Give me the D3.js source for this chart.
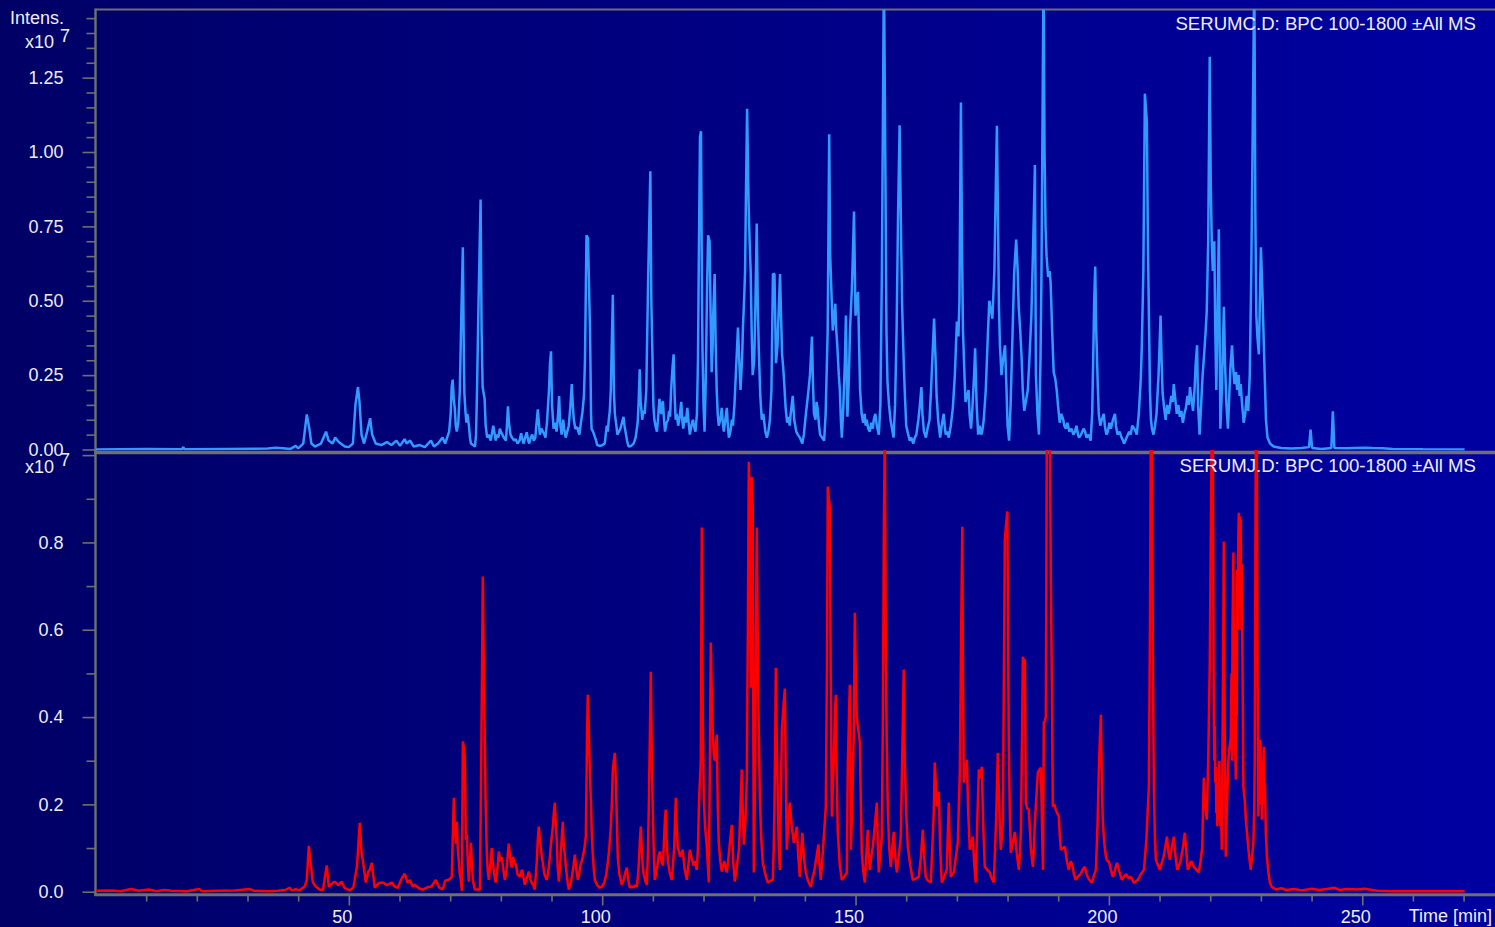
<!DOCTYPE html>
<html>
<head>
<meta charset="utf-8">
<script src="https://cdn.jsdelivr.net/npm/d3@7"></script>
<style>
  html, body { margin: 0; padding: 0; background: #000066; overflow: hidden; }
  svg { display: block; }
  text { font-family: "Liberation Sans", Arial, Helvetica, sans-serif; fill: #eeeeee; }
</style>
</head>
<body>
<svg id="chart" width="1495" height="927"></svg>
<script>
// ---- chart values -------------------------------------------------------
const traceTitles = ["SERUMC.D: BPC 100-1800 \u00b1All MS", "SERUMJ.D: BPC 100-1800 \u00b1All MS"];
const timeMinorTicks = d3.range(10, 271, 10);        // minutes
const timeLabelTicks = [50, 100, 150, 200, 250];      // minutes
const topMajorTicks = [0, 0.25, 0.5, 0.75, 1.0, 1.25]; // x10^7
const topMinorTicks = d3.range(0.05, 1.46, 0.05).filter(v => Math.abs(v / 0.25 - Math.round(v / 0.25)) > 1e-6);
const bottomMajorTicks = [0, 0.2, 0.4, 0.6, 0.8, 1.0];
const bottomMinorTicks = [0.1, 0.3, 0.5, 0.7, 0.9];
const bottomLabelTicks = [0, 0.2, 0.4, 0.6, 0.8];

// base peak chromatogram, SERUMC.D  [time (min), intensity (x10^7)]
const serumC = [
[0,0],[10,0.002],[17.1,0.001],[17.3,0.008],[17.6,0.001],[26,0.002],[34,0.003],[35.5,0.006],[37,0.004],[38.5,0.002],[39.5,0.012],[40,0.004],[41.0,0.02],[41.7,0.118],[42.2,0.07],[42.6,0.02],[43.3,0.01],[44.5,0.02],[45.5,0.06],[46.0,0.03],[46.8,0.02],[47.3,0.04],[48.0,0.025],[49.2,0.01],[50.0,0.008],[50.8,0.02],[51.3,0.15],[51.8,0.21],[52.1,0.16],[52.5,0.05],[53.0,0.02],[53.6,0.06],[54.2,0.105],[54.6,0.05],[55.3,0.02],[56.4,0.015],[57.5,0.025],[58.4,0.015],[59.4,0.03],[60.1,0.012],[61.0,0.035],[61.4,0.02],[62.1,0.03],[62.8,0.01],[64.0,0.015],[65.0,0.008],[66.2,0.03],[66.8,0.01],[67.6,0.02],[68.5,0.04],[69.0,0.02],
[69.8,0.06],[70.1,0.12],[70.3,0.21],[70.5,0.235],[70.7,0.17],[70.9,0.14],[71.1,0.08],[71.3,0.06],[71.6,0.09],[71.9,0.2],[72.2,0.45],[72.5,0.68],[72.7,0.3],[72.8,0.19],[73.0,0.13],[73.2,0.09],[73.4,0.12],[73.7,0.08],[73.9,0.04],[74.1,0.02],[74.5,0.015],[74.9,0.01],[75.1,0.05],[75.3,0.2],[75.6,0.5],[76.0,0.84],[76.2,0.4],[76.4,0.21],[76.6,0.19],[76.8,0.17],[77.0,0.08],[77.3,0.04],[77.6,0.05],[78.0,0.03],[78.3,0.06],[78.5,0.08],[78.8,0.05],[79.0,0.03],[79.2,0.05],[79.5,0.04],[79.8,0.07],[80.0,0.06],[80.3,0.05],[80.6,0.04],[81.0,0.03],[81.2,0.08],[81.4,0.145],[81.6,0.09],[81.9,0.05],[82.2,0.04],[82.6,0.03],[82.9,0.035],[83.3,0.02],[83.7,0.03],[84.0,0.055],[84.3,0.03],[84.5,0.02],[84.8,0.04],[85.1,0.058],[85.4,0.03],[85.6,0.02],[85.9,0.04],[86.2,0.05],[86.5,0.03],[86.8,0.04],[87.0,0.08],[87.3,0.135],[87.5,0.09],[87.7,0.05],[88.0,0.07],[88.3,0.06],[88.6,0.05],[88.8,0.04],[89.1,0.09],[89.5,0.2],[89.7,0.29],[89.9,0.33],[90.1,0.15],[90.4,0.07],[90.7,0.09],[91.0,0.06],[91.3,0.12],[91.5,0.18],[91.7,0.09],[92.0,0.05],[92.3,0.1],[92.5,0.07],[92.8,0.04],[93.1,0.06],[93.4,0.08],[93.7,0.14],[94.0,0.22],[94.2,0.15],[94.4,0.1],[94.7,0.07],[95.1,0.075],[95.3,0.06],[95.5,0.05],[95.8,0.09],[96.1,0.125],[96.4,0.18],[96.6,0.3],[96.9,0.72],[97.2,0.71],[97.4,0.55],[97.6,0.4],[97.8,0.12],[97.9,0.07],[98.2,0.06],[98.6,0.04],[98.8,0.03],[99.0,0.015],[99.6,0.012],[100.1,0.015],[100.5,0.02],[100.7,0.05],[100.9,0.08],[101.1,0.06],[101.3,0.1],[101.5,0.13],[101.7,0.2],[102.1,0.52],[102.3,0.2],[102.5,0.12],[102.8,0.08],[103.0,0.05],[103.3,0.06],[103.6,0.07],[103.9,0.09],[104.2,0.11],[104.4,0.08],[104.6,0.06],[104.9,0.03],[105.2,0.01],[105.7,0.012],[106.2,0.02],[106.6,0.04],[107.0,0.09],[107.2,0.16],[107.4,0.27],[107.6,0.16],[107.9,0.1],[108.1,0.13],[108.4,0.12],[108.7,0.2],[109.1,0.6],[109.5,0.935],[109.7,0.5],[109.9,0.33],[110.1,0.15],[110.3,0.1],[110.5,0.08],[110.8,0.06],[111.0,0.1],[111.3,0.17],[111.5,0.13],[111.7,0.12],[111.9,0.16],[112.0,0.16],[112.2,0.1],[112.4,0.06],[112.7,0.09],[113.0,0.1],[113.2,0.13],[113.4,0.11],[113.6,0.2],[113.9,0.28],[114.1,0.32],[114.3,0.18],[114.5,0.1],[114.7,0.12],[115.0,0.08],[115.3,0.11],[115.6,0.16],[115.8,0.1],[116.0,0.07],[116.3,0.11],[116.5,0.09],[116.8,0.14],[117.0,0.1],[117.3,0.05],[117.6,0.08],[117.9,0.1],[118.1,0.08],[118.4,0.06],[118.7,0.12],[118.9,0.3],[119.1,0.7],[119.3,1.05],[119.5,1.07],[119.7,0.5],[119.8,0.33],[120.0,0.15],[120.2,0.06],[120.4,0.2],[120.5,0.3],[120.7,0.55],[120.9,0.72],[121.2,0.7],[121.4,0.45],[121.6,0.26],[121.8,0.35],[121.9,0.45],[122.2,0.59],[122.4,0.35],[122.6,0.2],[122.8,0.12],[123.0,0.08],[123.3,0.1],[123.6,0.14],[123.8,0.09],[124.0,0.06],[124.3,0.1],[124.6,0.14],[124.8,0.08],[125.0,0.04],[125.3,0.06],[125.6,0.1],[125.8,0.08],[126.1,0.15],[126.5,0.3],[126.8,0.41],[127.0,0.32],[127.3,0.2],[127.6,0.3],[127.8,0.42],[128.0,0.5],[128.2,0.6],[128.4,0.9],[128.6,1.145],[128.9,0.82],[129.1,0.7],[129.3,0.6],[129.5,0.4],[129.7,0.25],[130.0,0.3],[130.2,0.45],[130.5,0.76],[130.7,0.5],[130.9,0.34],[131.2,0.18],[131.5,0.1],[131.8,0.12],[132.0,0.09],[132.2,0.06],[132.5,0.04],[132.8,0.06],[133.1,0.1],[133.4,0.2],[133.7,0.59],[134.0,0.59],[134.3,0.29],[134.6,0.35],[134.8,0.45],[135.1,0.59],[135.3,0.45],[135.5,0.32],[135.7,0.28],[135.9,0.23],[136.2,0.14],[136.5,0.09],[136.8,0.11],[137.0,0.08],[137.2,0.12],[137.4,0.15],[137.6,0.18],[137.9,0.1],[138.3,0.06],[138.6,0.05],[139.0,0.04],[139.5,0.02],[139.8,0.05],[140.2,0.12],[140.6,0.18],[141.0,0.25],[141.4,0.38],[141.6,0.22],[141.8,0.12],[142.1,0.1],[142.3,0.16],[142.5,0.14],[142.8,0.08],[143.0,0.05],[143.4,0.04],[143.8,0.03],[144.1,0.12],[144.5,0.4],[144.8,1.06],[145.0,0.65],[145.3,0.5],[145.5,0.4],[145.8,0.45],[146.0,0.49],[146.2,0.4],[146.4,0.35],[146.7,0.25],[146.9,0.2],[147.1,0.1],[147.3,0.04],[147.6,0.15],[147.9,0.3],[148.1,0.45],[148.3,0.2],[148.4,0.11],[148.7,0.25],[148.9,0.4],[149.3,0.55],[149.7,0.8],[149.9,0.55],[150.0,0.45],[150.3,0.5],[150.5,0.53],[150.7,0.35],[150.9,0.2],[151.2,0.12],[151.5,0.09],[151.8,0.12],[152.0,0.08],[152.2,0.1],[152.5,0.07],[152.8,0.06],[153.1,0.09],[153.4,0.07],[153.6,0.1],[153.9,0.12],[154.2,0.08],[154.6,0.05],[154.9,0.15],[155.2,0.6],[155.6,1.62],[155.9,0.92],[156.1,0.4],[156.3,0.23],[156.6,0.15],[156.9,0.1],[157.2,0.07],[157.5,0.04],[157.8,0.15],[158.1,0.4],[158.4,0.8],[158.7,1.09],[159.0,0.7],[159.2,0.48],[159.5,0.3],[159.7,0.2],[159.9,0.12],[160.0,0.08],[160.4,0.05],[160.7,0.03],[161.0,0.04],[161.4,0.02],[161.7,0.04],[162.0,0.05],[162.4,0.1],[162.7,0.15],[163.0,0.21],[163.2,0.12],[163.5,0.06],[163.7,0.05],[163.9,0.04],[164.2,0.07],[164.6,0.1],[164.9,0.2],[165.2,0.32],[165.5,0.44],[165.8,0.3],[166.0,0.18],[166.3,0.1],[166.5,0.07],[166.7,0.04],[167.0,0.08],[167.2,0.1],[167.4,0.12],[167.6,0.08],[167.8,0.05],[168.1,0.06],[168.4,0.04],[168.8,0.08],[169.2,0.14],[169.6,0.25],[170.0,0.43],[170.3,0.38],[170.5,0.5],[170.8,1.166],[171.0,0.7],[171.2,0.4],[171.5,0.25],[171.7,0.16],[172.0,0.18],[172.3,0.2],[172.5,0.12],[172.8,0.07],[173.1,0.15],[173.4,0.25],[173.6,0.34],[173.9,0.15],[174.2,0.05],[174.5,0.08],[174.8,0.05],[175.0,0.06],[175.3,0.1],[175.7,0.2],[176.1,0.38],[176.4,0.5],[176.7,0.47],[177.0,0.44],[177.2,0.52],[177.4,0.6],[177.7,0.9],[177.9,1.088],[178.1,0.8],[178.3,0.48],[178.5,0.35],[178.8,0.25],[179.1,0.3],[179.5,0.35],[179.8,0.2],[180.0,0.08],[180.3,0.03],[180.6,0.15],[181.0,0.4],[181.3,0.59],[181.5,0.65],[181.7,0.706],[182.0,0.6],[182.2,0.48],[182.5,0.4],[182.8,0.3],[183.0,0.2],[183.3,0.13],[183.6,0.16],[184.0,0.2],[184.3,0.3],[184.7,0.45],[185.0,0.65],[185.2,0.8],[185.4,0.956],[185.6,0.25],[185.9,0.12],[186.2,0.05],[186.5,0.3],[186.7,0.6],[186.9,1.1],[187.1,1.62],[187.3,1.0],[187.5,0.75],[187.7,0.65],[188.0,0.58],[188.3,0.6],[188.5,0.56],[188.8,0.4],[189.1,0.26],[189.4,0.24],[189.7,0.2],[190.0,0.14],[190.3,0.09],[190.6,0.12],[191.0,0.1],[191.2,0.08],[191.5,0.07],[191.8,0.09],[192.2,0.06],[192.6,0.07],[193.0,0.05],[193.3,0.06],[193.6,0.08],[193.9,0.05],[194.1,0.04],[194.5,0.05],[195.0,0.07],[195.3,0.06],[195.6,0.04],[196.0,0.05],[196.4,0.03],[196.7,0.12],[196.9,0.3],[197.1,0.5],[197.3,0.615],[197.5,0.4],[197.8,0.22],[198.0,0.12],[198.3,0.08],[198.6,0.1],[199.0,0.12],[199.2,0.08],[199.5,0.05],[199.8,0.06],[200.1,0.09],[200.4,0.07],[200.8,0.1],[201.2,0.12],[201.4,0.08],[201.7,0.05],[202.1,0.06],[202.5,0.04],[202.8,0.03],[203.0,0.02],[203.5,0.04],[204.0,0.06],[204.3,0.05],[204.6,0.08],[205.0,0.07],[205.3,0.06],[205.5,0.05],[205.9,0.12],[206.3,0.24],[206.5,0.35],[206.8,0.6],[207.1,1.196],[207.3,1.15],[207.5,1.1],[207.7,0.7],[207.9,0.45],[208.1,0.2],[208.3,0.1],[208.5,0.07],[208.8,0.05],[209.1,0.08],[209.4,0.12],[209.8,0.25],[210.2,0.45],[210.4,0.3],[210.6,0.19],[210.9,0.14],[211.2,0.1],[211.5,0.15],[211.8,0.12],[212.0,0.14],[212.3,0.18],[212.6,0.16],[212.8,0.22],[213.1,0.17],[213.4,0.12],[213.7,0.15],[214.0,0.11],[214.3,0.13],[214.6,0.09],[214.9,0.12],[215.2,0.14],[215.5,0.18],[215.8,0.15],[216.0,0.21],[216.3,0.17],[216.6,0.13],[216.9,0.2],[217.1,0.28],[217.4,0.35],[217.6,0.15],[217.9,0.05],[218.2,0.15],[218.5,0.25],[218.8,0.32],[219.1,0.4],[219.3,0.46],[219.6,0.7],[219.9,1.32],[220.1,0.9],[220.3,0.7],[220.5,0.6],[220.8,0.7],[221.0,0.4],[221.2,0.2],[221.4,0.4],[221.7,0.74],[221.9,0.3],[222.0,0.07],[222.3,0.2],[222.5,0.35],[222.7,0.48],[222.9,0.3],[223.2,0.15],[223.5,0.07],[223.8,0.2],[224.0,0.28],[224.3,0.35],[224.5,0.28],[224.8,0.22],[225.1,0.26],[225.3,0.2],[225.6,0.25],[225.8,0.18],[226.0,0.22],[226.3,0.15],[226.6,0.09],[226.9,0.12],[227.2,0.18],[227.5,0.13],[227.8,0.25],[228.1,0.6],[228.4,1.1],[228.7,1.62],[228.9,0.8],[229.1,0.45],[229.3,0.38],[229.6,0.32],[229.8,0.5],[230.0,0.68],[230.3,0.53],[230.5,0.4],[230.8,0.22],[231.0,0.1],[231.3,0.04],[231.8,0.02],[232.5,0.01],[234,0.005],[236,0.003],[238,0.005],[239.5,0.008],[239.8,0.067],[240.1,0.005],[242,0.002],[243.9,0.005],[244.2,0.128],[244.5,0.005],[247,0.004],[250.5,0.006],[252,0.005],[254,0.004],[256,0.002],[262,0.001],[270.2,0]
];

// base peak chromatogram, SERUMJ.D  [time (min), intensity (x10^7)]
const serumJ = [
[0,0.002],[3.0,0.003],[5,0.001],[7.0,0.006],[8.5,0.002],[10.5,0.005],[12,0.001],[13.5,0.004],[15,0.002],[18,0.001],[20.5,0.006],[21,0.001],[24,0.002],[27.5,0.003],[30.5,0.006],[31.2,0.002],[34,0.001],[36,0.002],[37.5,0.004],[38.3,0.009],[38.8,0.003],[39.5,0.006],[40.2,0.003],[40.8,0.008],[41.3,0.012],[41.7,0.027],[42.1,0.105],[42.5,0.062],[42.9,0.021],[43.5,0.012],[44.2,0.005],[44.9,0.004],[45.3,0.035],[45.65,0.06],[46.05,0.011],[46.6,0.018],[47.2,0.023],[47.9,0.015],[48.6,0.023],[49.2,0.008],[50.2,0.003],[50.9,0.01],[51.6,0.057],[52.16,0.158],[52.5,0.09],[52.75,0.073],[53.35,0.021],[53.8,0.045],[54.13,0.05],[54.53,0.066],[55.12,0.009],[55.9,0.02],[56.7,0.021],[57.5,0.015],[58.48,0.021],[59.0,0.012],[59.66,0.009],[60.4,0.03],[61.04,0.041],[61.6,0.02],[62.03,0.027],[62.6,0.012],[63.02,0.016],[63.8,0.008],[64.6,0.005],[65.5,0.01],[66.3,0.012],[67.16,0.027],[67.8,0.01],[68.54,0.005],[69.0,0.025],
[69.53,0.027],[70.0,0.03],[70.32,0.034],[70.5,0.12],[70.72,0.215],[70.9,0.15],[71.11,0.11],[71.31,0.16],[71.5,0.1],[71.71,0.069],[71.9,0.04],[72.1,0.027],[72.3,0.002],[72.5,0.344],[72.7,0.33],[72.89,0.309],[73.09,0.119],[73.29,0.131],[73.5,0.06],[73.68,0.023],[73.9,0.07],[74.08,0.112],[74.3,0.06],[74.47,0.027],[74.87,0.005],[75.4,0.005],[75.85,0.005],[76.0,0.15],[76.2,0.4],[76.44,0.722],[76.64,0.513],[76.84,0.341],[77.0,0.2],[77.23,0.089],[77.4,0.05],[77.62,0.027],[77.9,0.06],[78.21,0.1],[78.4,0.07],[78.6,0.05],[78.8,0.03],[79.0,0.021],[79.3,0.05],[79.6,0.092],[79.9,0.07],[80.19,0.08],[80.5,0.05],[80.78,0.027],[81.0,0.04],[81.2,0.06],[81.4,0.09],[81.57,0.11],[81.9,0.07],[82.16,0.055],[82.4,0.08],[82.6,0.07],[82.95,0.062],[83.3,0.04],[83.74,0.034],[84.0,0.045],[84.2,0.05],[84.5,0.03],[84.73,0.016],[85.1,0.03],[85.52,0.046],[85.8,0.03],[86.1,0.02],[86.4,0.015],[86.7,0.005],[86.9,0.04],[87.1,0.07],[87.3,0.12],[87.49,0.149],[87.7,0.12],[87.9,0.1],[88.1,0.08],[88.28,0.066],[88.6,0.04],[89.07,0.027],[89.4,0.05],[89.66,0.078],[89.9,0.11],[90.25,0.147],[90.45,0.18],[90.65,0.204],[90.85,0.15],[91.04,0.119],[91.2,0.06],[91.44,0.023],[91.7,0.06],[91.9,0.1],[92.05,0.13],[92.23,0.16],[92.4,0.11],[92.62,0.085],[92.8,0.06],[93.0,0.04],[93.2,0.02],[93.41,0.005],[93.8,0.02],[94.1,0.04],[94.35,0.06],[94.6,0.085],[94.9,0.05],[95.19,0.027],[95.45,0.04],[95.7,0.06],[95.95,0.07],[96.18,0.08],[96.5,0.1],[96.77,0.126],[97.0,0.35],[97.16,0.451],[97.35,0.38],[97.5,0.3],[97.76,0.211],[97.95,0.13],[98.15,0.085],[98.35,0.05],[98.55,0.027],[99.0,0.015],[99.53,0.009],[100.0,0.012],[100.4,0.02],[100.8,0.04],[101.11,0.066],[101.4,0.1],[101.7,0.15],[101.9,0.2],[102.1,0.28],[102.3,0.3],[102.49,0.318],[102.7,0.25],[102.89,0.165],[103.08,0.078],[103.4,0.04],[103.87,0.016],[104.3,0.03],[104.6,0.045],[104.86,0.055],[105.1,0.03],[105.45,0.009],[105.8,0.012],[106.2,0.01],[106.5,0.015],[106.83,0.011],[107.1,0.04],[107.3,0.08],[107.45,0.12],[107.62,0.149],[107.8,0.1],[108.01,0.057],[108.2,0.04],[108.5,0.025],[108.8,0.016],[109.0,0.08],[109.2,0.195],[109.4,0.35],[109.59,0.504],[109.8,0.3],[109.99,0.181],[110.2,0.08],[110.38,0.027],[110.6,0.04],[110.9,0.06],[111.1,0.08],[111.37,0.092],[111.7,0.07],[112.0,0.06],[112.2,0.12],[112.4,0.17],[112.55,0.188],[112.75,0.11],[112.95,0.073],[113.3,0.045],[113.74,0.027],[113.95,0.06],[114.2,0.1],[114.4,0.17],[114.53,0.215],[114.7,0.15],[114.92,0.101],[115.2,0.09],[115.4,0.08],[115.7,0.09],[115.91,0.096],[116.1,0.07],[116.3,0.05],[116.5,0.04],[116.7,0.027],[117.0,0.06],[117.29,0.096],[117.6,0.08],[118.0,0.06],[118.3,0.07],[118.67,0.05],[118.9,0.1],[119.1,0.2],[119.3,0.26],[119.46,0.302],[119.66,0.834],[119.85,0.4],[120.05,0.215],[120.3,0.15],[120.64,0.103],[120.85,0.06],[121.04,0.021],[121.25,0.3],[121.43,0.571],[121.63,0.45],[121.83,0.364],[122.0,0.32],[122.2,0.3],[122.4,0.33],[122.62,0.36],[122.8,0.2],[123.01,0.112],[123.3,0.07],[123.6,0.046],[123.85,0.06],[124.1,0.07],[124.35,0.055],[124.59,0.044],[124.85,0.07],[125.1,0.1],[125.35,0.13],[125.58,0.153],[125.85,0.07],[126.17,0.023],[126.5,0.05],[126.8,0.08],[127.0,0.1],[127.3,0.2],[127.55,0.28],[127.75,0.18],[127.95,0.108],[128.2,0.15],[128.4,0.2],[128.54,0.263],[128.75,0.6],[128.93,0.985],[129.13,0.9],[129.33,0.467],[129.5,0.95],[129.72,0.88],[129.82,0.4],[129.92,0.044],[130.05,0.15],[130.2,0.3],[130.35,0.6],[130.51,0.834],[130.8,0.45],[131.11,0.215],[131.4,0.12],[131.7,0.066],[132.0,0.05],[132.3,0.035],[132.69,0.021],[133.2,0.025],[133.67,0.027],[133.85,0.1],[134.0,0.2],[134.15,0.35],[134.27,0.513],[134.45,0.35],[134.66,0.211],[134.85,0.1],[135.06,0.05],[135.25,0.2],[135.45,0.371],[135.75,0.42],[136.04,0.465],[136.25,0.25],[136.44,0.096],[136.7,0.15],[137.03,0.204],[137.4,0.15],[137.82,0.112],[138.1,0.13],[138.41,0.149],[138.7,0.08],[139.0,0.034],[139.25,0.09],[139.49,0.135],[139.8,0.08],[140.18,0.044],[140.6,0.025],[141.17,0.011],[141.5,0.03],[141.9,0.05],[142.3,0.08],[142.67,0.108],[142.9,0.06],[143.14,0.027],[143.6,0.1],[144.13,0.195],[144.35,0.5],[144.53,0.928],[144.72,0.9],[144.92,0.882],[145.1,0.5],[145.32,0.172],[145.7,0.3],[145.9,0.4],[146.11,0.451],[146.3,0.25],[146.5,0.135],[146.9,0.06],[147.29,0.027],[147.8,0.035],[148.28,0.044],[148.48,0.296],[148.7,0.4],[148.87,0.474],[149.07,0.096],[149.35,0.2],[149.66,0.364],[149.86,0.639],[150.05,0.5],[150.25,0.401],[150.55,0.37],[150.85,0.341],[151.05,0.2],[151.24,0.089],[151.5,0.05],[151.83,0.021],[152.1,0.08],[152.42,0.142],[152.6,0.09],[152.82,0.05],[153.1,0.08],[153.41,0.103],[153.8,0.15],[154.2,0.204],[154.4,0.1],[154.59,0.044],[154.9,0.09],[155.18,0.126],[155.4,0.4],[155.58,0.813],[155.78,1.08],[155.97,0.561],[156.15,0.35],[156.37,0.188],[156.65,0.1],[156.96,0.057],[157.25,0.1],[157.55,0.137],[157.85,0.08],[158.14,0.044],[158.5,0.08],[158.93,0.126],[159.2,0.3],[159.52,0.509],[159.72,0.296],[160.0,0.18],[160.31,0.103],[160.8,0.06],[161.3,0.027],[161.9,0.03],[162.48,0.034],[162.9,0.08],[163.27,0.142],[163.55,0.08],[163.86,0.034],[164.3,0.025],[164.85,0.021],[165.15,0.1],[165.44,0.183],[165.64,0.296],[166.04,0.195],[166.43,0.229],[166.7,0.1],[167.02,0.021],[167.5,0.035],[168.0,0.05],[168.2,0.13],[168.4,0.204],[168.6,0.1],[168.8,0.034],[169.1,0.04],[169.39,0.044],[169.8,0.08],[170.18,0.112],[170.4,0.2],[170.58,0.273],[170.85,0.6],[171.07,0.836],[171.2,0.5],[171.37,0.25],[171.7,0.28],[171.96,0.302],[172.25,0.18],[172.55,0.096],[172.85,0.11],[173.14,0.126],[173.45,0.06],[173.73,0.021],[174.0,0.15],[174.33,0.28],[174.6,0.26],[174.92,0.286],[175.2,0.15],[175.51,0.057],[176.0,0.05],[176.5,0.044],[176.9,0.03],[177.29,0.021],[177.7,0.15],[178.08,0.318],[178.4,0.18],[178.67,0.096],[178.9,0.13],[179.07,0.158],[179.25,0.45],[179.46,0.806],[179.7,0.84],[179.96,0.871],[180.1,0.6],[180.25,0.332],[180.45,0.18],[180.65,0.089],[181.0,0.11],[181.44,0.137],[181.8,0.09],[182.23,0.05],[182.45,0.09],[182.63,0.135],[182.85,0.35],[183.02,0.538],[183.22,0.53],[183.42,0.531],[183.61,0.204],[183.9,0.19],[184.2,0.188],[184.6,0.1],[185.0,0.057],[185.2,0.1],[185.39,0.158],[185.7,0.22],[185.98,0.273],[186.3,0.28],[186.57,0.284],[186.8,0.15],[187.0,0.05],[187.16,0.389],[187.36,0.39],[187.56,0.401],[187.76,1.08],[188.1,1.08],[188.35,1.08],[188.55,0.7],[188.75,0.47],[188.94,0.195],[189.2,0.2],[189.53,0.188],[189.8,0.18],[190.13,0.172],[190.3,0.13],[190.52,0.096],[190.9,0.1],[191.31,0.103],[191.7,0.07],[192.1,0.05],[192.45,0.07],[192.8,0.06],[193.1,0.04],[193.48,0.027],[193.9,0.035],[194.4,0.04],[194.8,0.05],[195.26,0.057],[195.6,0.04],[196.0,0.03],[196.3,0.025],[196.64,0.021],[197.0,0.035],[197.43,0.05],[197.75,0.15],[198.02,0.28],[198.22,0.35],[198.42,0.405],[198.6,0.25],[198.81,0.158],[199.1,0.11],[199.41,0.08],[199.7,0.07],[200.0,0.069],[200.4,0.05],[200.79,0.034],[201.2,0.05],[201.58,0.066],[202.1,0.045],[202.57,0.027],[203.0,0.035],[203.4,0.04],[203.9,0.03],[204.34,0.034],[204.7,0.025],[205.0,0.02],[205.4,0.025],[205.72,0.027],[206.3,0.04],[206.91,0.05],[207.4,0.12],[207.89,0.241],[208.1,0.6],[208.29,1.08],[208.5,1.08],[208.7,0.5],[208.88,0.234],[209.1,0.12],[209.28,0.073],[209.7,0.06],[210.07,0.05],[210.4,0.065],[210.8,0.08],[211.1,0.1],[211.45,0.126],[211.75,0.09],[212.04,0.073],[212.4,0.1],[212.83,0.126],[213.15,0.08],[213.5,0.05],[213.85,0.06],[214.19,0.073],[214.6,0.1],[214.98,0.135],[215.3,0.09],[215.57,0.05],[215.9,0.06],[216.2,0.07],[216.5,0.065],[216.76,0.057],[217.25,0.05],[217.74,0.044],[218.1,0.07],[218.43,0.103],[218.73,0.261],[219.0,0.2],[219.32,0.165],[219.6,0.3],[219.91,0.525],[220.1,0.8],[220.31,1.08],[220.5,1.08],[220.7,0.401],[220.8,0.3],[220.9,0.38],[221.0,0.25],[221.1,0.286],[221.2,0.18],[221.3,0.25],[221.4,0.15],[221.49,0.172],[221.6,0.25],[221.7,0.19],[221.8,0.3],[221.89,0.211],[222.0,0.15],[222.1,0.2],[222.28,0.096],[222.5,0.45],[222.68,0.802],[222.85,0.4],[223.07,0.08],[223.3,0.2],[223.59,0.302],[223.8,0.33],[224.06,0.353],[224.2,0.5],[224.3,0.3],[224.4,0.6],[224.57,0.777],[224.7,0.45],[224.8,0.6],[224.9,0.35],[225.05,0.257],[225.15,0.55],[225.25,0.4],[225.34,0.738],[225.45,0.6],[225.55,0.82],[225.64,0.868],[225.75,0.7],[225.85,0.86],[225.95,0.65],[226.03,0.852],[226.15,0.6],[226.25,0.75],[226.33,0.571],[226.45,0.4],[226.54,0.241],[226.7,0.22],[226.82,0.211],[227.0,0.17],[227.21,0.142],[227.6,0.09],[228.0,0.05],[228.25,0.08],[228.52,0.112],[228.7,0.2],[228.79,0.309],[229.0,1.08],[229.19,1.08],[229.35,0.5],[229.5,0.172],[229.6,0.3],[229.7,0.2],[229.8,0.33],[229.92,0.348],[230.0,0.22],[230.1,0.3],[230.18,0.165],[230.3,0.28],[230.4,0.2],[230.5,0.3],[230.57,0.332],[230.7,0.2],[230.8,0.25],[230.97,0.135],[231.2,0.08],[231.48,0.044],[231.8,0.02],[232.15,0.011],[232.94,0.005],[234,0.008],[235,0.004],[236.5,0.006],[238,0.003],[240,0.007],[241.5,0.004],[243,0.006],[244.5,0.009],[245.5,0.004],[247,0.006],[249,0.005],[250.5,0.007],[252,0.004],[253,0.002],[256,0.001],[260,0.001],[265,0.001],[270.2,0.001]
];

// ---- layout -------------------------------------------------------------
const W = 1495, H = 927;
const axisColor = "#6f6f6f";
const svg = d3.select("#chart");

const x = d3.scaleLinear().domain([0, 276.2]).range([95.5, 1495]);
const yTop = d3.scaleLinear().domain([0, 1.479]).range([449.5, 9.5]);
const yBot = d3.scaleLinear().domain([0, 1.006]).range([891.7, 452.5]);

// background: horizontal navy-to-blue gradient
const defs = svg.append("defs");
const grad = defs.append("linearGradient")
  .attr("id", "bg").attr("gradientUnits", "userSpaceOnUse")
  .attr("x1", 0).attr("y1", 0).attr("x2", W).attr("y2", 0);
grad.append("stop").attr("offset", "0%").attr("stop-color", "#000066");
grad.append("stop").attr("offset", "100%").attr("stop-color", "#0000a2");
svg.append("rect").attr("width", W).attr("height", H).attr("fill", "url(#bg)");

defs.append("clipPath").attr("id", "clipTop").append("rect")
  .attr("x", 96).attr("y", 9.5).attr("width", W - 96).attr("height", 441);
defs.append("clipPath").attr("id", "clipBot").append("rect")
  .attr("x", 96).attr("y", 450).attr("width", W - 96).attr("height", 444);

// ---- axes ---------------------------------------------------------------
function styleAxis(g) {
  g.select(".domain").remove();
  g.selectAll(".tick line").attr("stroke", axisColor).attr("stroke-width", 1.6);
  g.selectAll(".tick text").attr("fill", "#eeeeee")
    .style("font-size", "18px").style("font-family", '"Liberation Sans", Arial, sans-serif');
}

// top panel intensity axis
svg.append("g").attr("transform", "translate(95.5,0)")
  .call(d3.axisLeft(yTop).tickValues(topMinorTicks).tickSize(9).tickFormat(""))
  .call(styleAxis);
svg.append("g").attr("transform", "translate(95.5,0)")
  .call(d3.axisLeft(yTop).tickValues(topMajorTicks).tickSize(13).tickPadding(19).tickFormat(d3.format(".2f")))
  .call(styleAxis);

// bottom panel intensity axis
svg.append("g").attr("transform", "translate(95.5,0)")
  .call(d3.axisLeft(yBot).tickValues(bottomMinorTicks).tickSize(9).tickFormat(""))
  .call(styleAxis);
svg.append("g").attr("transform", "translate(95.5,0)")
  .call(d3.axisLeft(yBot).tickValues(bottomMajorTicks).tickSize(13).tickPadding(19)
    .tickFormat(d => bottomLabelTicks.includes(d) ? d3.format(".1f")(d) : ""))
  .call(styleAxis);

// time axis
svg.append("g").attr("transform", "translate(0,894.5)")
  .call(d3.axisBottom(x).tickValues(timeMinorTicks.filter(t => !timeLabelTicks.includes(t))).tickSize(7).tickFormat(""))
  .call(styleAxis);
svg.append("g").attr("transform", "translate(0,894.5)")
  .call(d3.axisBottom(x).tickValues(timeLabelTicks).tickSize(11).tickFormat(""))
  .call(styleAxis);
svg.append("g").selectAll("text").data(timeLabelTicks).join("text")
  .attr("x", d => x(d) - 6.5).attr("y", 923)
  .attr("text-anchor", "middle").style("font-size", "18px")
  .text(d => d);

// frame lines
svg.append("line").attr("x1", 95.5).attr("x2", W).attr("y1", 9.5).attr("y2", 9.5)
  .attr("stroke", axisColor).attr("stroke-width", 2);
svg.append("line").attr("x1", 95.5).attr("x2", 95.5).attr("y1", 8.5).attr("y2", 896)
  .attr("stroke", axisColor).attr("stroke-width", 2.4);
svg.append("line").attr("x1", 94.3).attr("x2", W).attr("y1", 452.5).attr("y2", 452.5)
  .attr("stroke", axisColor).attr("stroke-width", 3.5);
svg.append("line").attr("x1", 94.3).attr("x2", W).attr("y1", 894.7).attr("y2", 894.7)
  .attr("stroke", axisColor).attr("stroke-width", 3);

// ---- traces -------------------------------------------------------------
const lineTop = d3.line().x(d => x(d[0])).y(d => yTop(d[1]));
const lineBot = d3.line().x(d => x(d[0])).y(d => yBot(d[1]));

svg.append("path").datum(serumC)
  .attr("clip-path", "url(#clipTop)")
  .attr("d", lineTop).attr("fill", "none")
  .attr("stroke", "#3399ff").attr("stroke-width", 2.5).attr("stroke-linejoin", "bevel");

svg.append("path").datum(serumJ)
  .attr("clip-path", "url(#clipBot)")
  .attr("d", lineBot).attr("fill", "none")
  .attr("stroke", "#ff0000").attr("stroke-width", 2.5).attr("stroke-linejoin", "bevel");

// ---- labels -------------------------------------------------------------
svg.append("text").attr("x", 10).attr("y", 24).style("font-size", "18px").text("Intens.");
function expLabel(y) {
  svg.append("text").attr("x", 25).attr("y", y).style("font-size", "18px").text("x10");
  svg.append("text").attr("x", 60).attr("y", y - 6.5).style("font-size", "18px").text("7");
}
expLabel(48);
expLabel(472.5);

svg.append("text").attr("x", 1476).attr("y", 30).attr("text-anchor", "end")
  .style("font-size", "18.6px").text(traceTitles[0]);
svg.append("text").attr("x", 1476).attr("y", 472).attr("text-anchor", "end")
  .style("font-size", "18.6px").text(traceTitles[1]);
svg.append("text").attr("x", 1492).attr("y", 922).attr("text-anchor", "end")
  .style("font-size", "18px").text("Time [min]");
</script>
</body>
</html>
